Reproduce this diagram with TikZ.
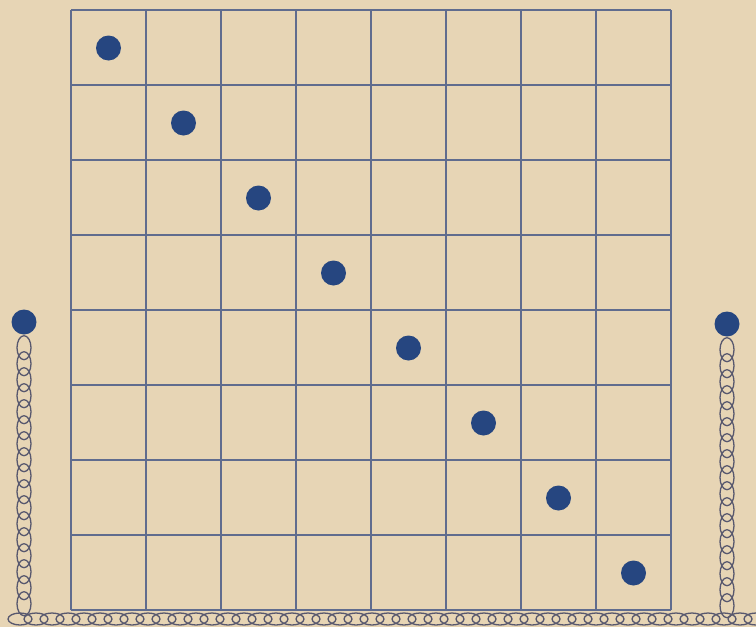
\documentclass[tikz,border=0pt]{standalone}
\usepackage{tikz}
\usetikzlibrary{calc}
\definecolor{paper}{RGB}{231,213,181}
\definecolor{ink}{RGB}{96,108,142}
\definecolor{beadblue}{RGB}{38,70,128}
\definecolor{chainink}{RGB}{88,88,110}

\begin{document}
\begin{tikzpicture}[x=1pt, y=-1pt]
    \tikzstyle{bead} = [circle, fill=beadblue, inner sep=0pt, minimum size=25pt]
    \tikzstyle{gridline} = [draw=ink, line width=1.4pt]
    \tikzstyle{link} = [draw=chainink, line width=1.3pt]

    \fill[paper] (0,0) rectangle (756,627);
    \useasboundingbox (0,0) rectangle (756,627);

    % the board
    \foreach \i in {0,...,8} {
        \draw[gridline] (71+75*\i,10) -- (71+75*\i,610);
        \draw[gridline] (71,10+75*\i) -- (671,10+75*\i);
    }

    % beads on the diagonal
    \foreach \i in {1,...,8}
        \node[bead] (d\i) at (33.5+75*\i,-27+75*\i) {};

    % beads on the side chains
    \node[bead] (lefttop) at (24,322) {};
    \node[bead] (righttop) at (727,324) {};

    % hanging chains
    \foreach \k in {0,...,16} {
        \draw[link] ($(lefttop.south)+(0,13+16*\k)$) ellipse (7pt and 12pt);
        \draw[link] ($(righttop.south)+(0,13+16*\k)$) ellipse (7pt and 12pt);
    }

    % chain along the floor
    \foreach \k in {0,...,46}
        \draw[link] (20+16*\k,619) ellipse (12pt and 6pt);
\end{tikzpicture}
\end{document}
